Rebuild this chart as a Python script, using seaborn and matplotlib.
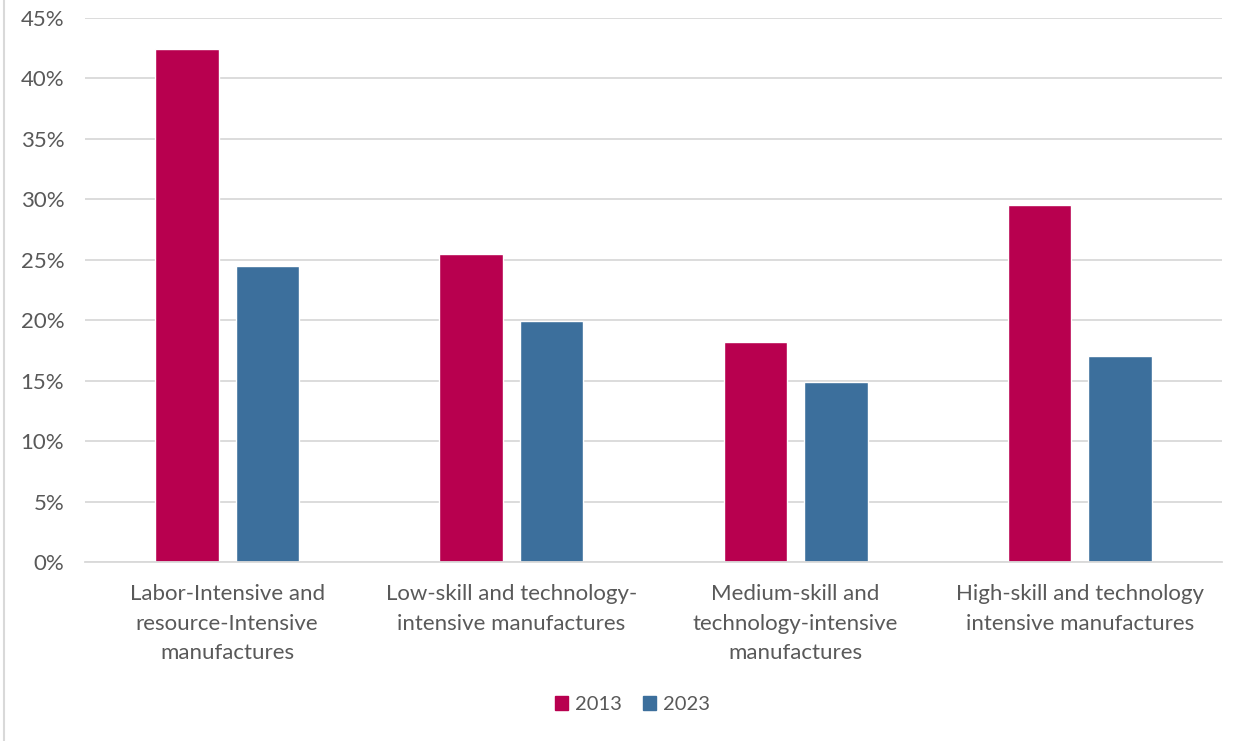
import matplotlib
matplotlib.use("Agg")
import matplotlib.pyplot as plt
from matplotlib.lines import Line2D
from matplotlib.ticker import PercentFormatter
import pandas as pd
import seaborn as sns

categories = [
    "Labor-Intensive and\nresource-Intensive\nmanufactures",
    "Low-skill and technology-\nintensive manufactures",
    "Medium-skill and\ntechnology-intensive\nmanufactures",
    "High-skill and technology\nintensive manufactures",
]
years = ["2013", "2023"]
share_2013 = [42.4, 25.5, 18.2, 29.5]
share_2023 = [24.5, 19.9, 14.9, 17.0]
yticks = [0, 5, 10, 15, 20, 25, 30, 35, 40, 45]

colors = {"2013": "#B8004F", "2023": "#3C6F9C"}
text_color = "#595959"
grid_color = "#D9D9D9"

df = pd.DataFrame({
    "category": categories * 2,
    "year": [years[0]] * len(categories) + [years[1]] * len(categories),
    "share": share_2013 + share_2023,
})

sns.set_theme(style="white")
plt.rcParams["font.family"] = ["Lato", "DejaVu Sans"]

fig = plt.figure(figsize=(12.5, 7.41), dpi=100)
ax = fig.add_axes([0.068, 0.2416, 0.9096, 0.7341])

sns.barplot(data=df, x="category", y="share", hue="year", palette=colors,
            order=categories, hue_order=years, width=0.566, gap=0.21,
            saturation=1, ax=ax, legend=False)

ax.set_ylim(0, 45)
ax.set_xlim(-0.5, len(categories) - 0.5)
ax.set_yticks(yticks)
ax.yaxis.set_major_formatter(PercentFormatter(decimals=0))
ax.yaxis.grid(True, color=grid_color, linewidth=1.3)
ax.set_axisbelow(True)
for side in ["top", "right", "left"]:
    ax.spines[side].set_visible(False)
ax.spines["bottom"].set_color(grid_color)
ax.spines["bottom"].set_linewidth(1.3)
ax.tick_params(axis="both", length=0, colors=text_color, labelsize=16)
ax.tick_params(axis="y", pad=15)
ax.tick_params(axis="x", pad=16)
ax.set_xlabel("")
ax.set_ylabel("")
for lbl in ax.get_xticklabels():
    lbl.set_linespacing(1.6)

handles = [plt.Rectangle((0, 0), 1, 1, color=colors[y]) for y in years]
fig.legend(handles, years, loc="center", bbox_to_anchor=(0.506, 0.049),
           ncol=2, frameon=False, fontsize=14.5, labelcolor=text_color,
           handlelength=0.65, handleheight=0.65, handletextpad=0.35,
           columnspacing=1.0)

fig.add_artist(Line2D([0.0035, 0.0035], [0, 1], transform=fig.transFigure,
                      color=grid_color, linewidth=1.5))

fig.savefig("out.png", dpi=100, facecolor="white")
